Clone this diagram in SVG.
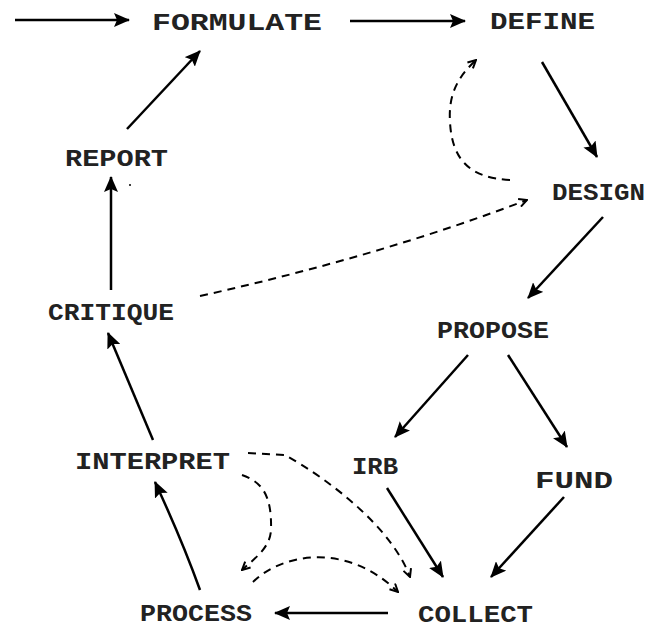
<svg xmlns="http://www.w3.org/2000/svg" width="647" height="629" viewBox="0 0 647 629">
<style>
.lbl{font-family:"Liberation Mono","DejaVu Sans Mono",monospace;font-weight:bold;font-size:24px;fill:#222;}
.s{fill:none;stroke:#000;stroke-width:2.5;marker-end:url(#solid);}
.d{fill:none;stroke:#000;stroke-width:2;stroke-dasharray:8 6;marker-end:url(#open);}
</style>
<defs>
<marker id="solid" viewBox="0 0 16 14" refX="15" refY="7" markerWidth="16" markerHeight="14" markerUnits="userSpaceOnUse" orient="auto">
<path d="M0,0 L16,7 L0,14 L3,7 Z" fill="#000"/>
</marker>
<marker id="open" viewBox="0 0 10 10" refX="9" refY="5" markerWidth="10" markerHeight="10" markerUnits="userSpaceOnUse" orient="auto">
<path d="M1,1 L9,5 L1,9" fill="none" stroke="#000" stroke-width="2"/>
</marker>
</defs>
<rect width="647" height="629" fill="#fff"/>
<g id="connectors">
<path class="s" d="M15 20 L129 20"/>
<path class="s" d="M350 21 L465 21"/>
<path class="s" d="M542 62 L597 157"/>
<path class="s" d="M603 217 L528 298"/>
<path class="s" d="M468 355 L395 437"/>
<path class="s" d="M508 355 L567 447"/>
<path class="s" d="M387 488 L443 577"/>
<path class="s" d="M564 497 L491 577"/>
<path class="s" d="M388 613 L275 613"/>
<path class="s" d="M200 590 Q182 540 155 482"/>
<path class="s" d="M153 440 L108 333"/>
<path class="s" d="M111 290 L111 177"/>
<path class="s" d="M127 129 L200 51"/>
<circle cx="130" cy="185" r="1" fill="#000"/>
<path class="d" d="M510 180 C470 178 452 160 450 122 C448 92 460 75 476 60"/>
<path class="d" d="M200 296 Q380 256 527 200"/>
<path class="d" d="M248 453 L285 455 C330 480 392 528 410 577"/>
<path class="d" d="M242 475 C262 482 272 495 271 530 C270 548 255 558 242 570"/>
<path class="d" d="M253 582 C280 555 345 540 398 592"/>
</g>
<g id="formulate"><text class="lbl" x="152" y="30" textLength="170" lengthAdjust="spacingAndGlyphs">FORMULATE</text></g>
<g id="define"><text class="lbl" x="490" y="29" textLength="105" lengthAdjust="spacingAndGlyphs">DEFINE</text></g>
<g id="design"><text class="lbl" x="552" y="200" textLength="93" lengthAdjust="spacingAndGlyphs">DESIGN</text></g>
<g id="report"><text class="lbl" x="65" y="166" textLength="103" lengthAdjust="spacingAndGlyphs">REPORT</text></g>
<g id="critique"><text class="lbl" x="48" y="320" textLength="126" lengthAdjust="spacingAndGlyphs">CRITIQUE</text></g>
<g id="propose"><text class="lbl" x="437" y="338" textLength="112" lengthAdjust="spacingAndGlyphs">PROPOSE</text></g>
<g id="interpret"><text class="lbl" x="75" y="469" textLength="155" lengthAdjust="spacingAndGlyphs">INTERPRET</text></g>
<g id="irb"><text class="lbl" x="352" y="474" textLength="46" lengthAdjust="spacingAndGlyphs">IRB</text></g>
<g id="fund"><text class="lbl" x="535" y="488" textLength="78" lengthAdjust="spacingAndGlyphs">FUND</text></g>
<g id="process"><text class="lbl" x="140" y="621" textLength="112" lengthAdjust="spacingAndGlyphs">PROCESS</text></g>
<g id="collect"><text class="lbl" x="418" y="622" textLength="115" lengthAdjust="spacingAndGlyphs">COLLECT</text></g>
</svg>
